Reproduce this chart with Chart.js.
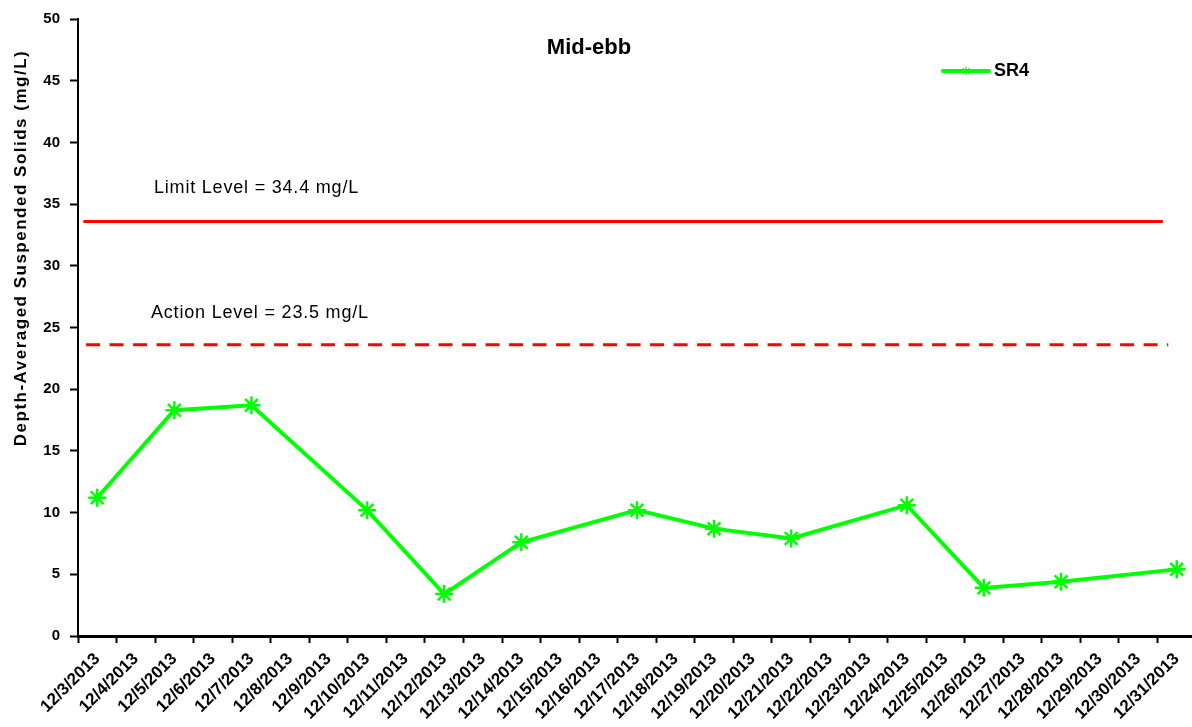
<!DOCTYPE html>
<html>
<head>
<meta charset="utf-8">
<title>Mid-ebb SR4</title>
<script src="https://cdn.jsdelivr.net/npm/chart.js@4.4.1/dist/chart.umd.min.js"></script>
<style>
  html, body { margin: 0; padding: 0; background: #fff; overflow: hidden; }
  #wrap { width: 1196px; height: 727px; }
</style>
</head>
<body>
<div id="wrap"><canvas id="chart"></canvas></div>
<script>
const dates = [
    '12/3/2013', '12/4/2013', '12/5/2013', '12/6/2013', '12/7/2013', '12/8/2013',
    '12/9/2013', '12/10/2013', '12/11/2013', '12/12/2013', '12/13/2013', '12/14/2013',
    '12/15/2013', '12/16/2013', '12/17/2013', '12/18/2013', '12/19/2013', '12/20/2013',
    '12/21/2013', '12/22/2013', '12/23/2013', '12/24/2013', '12/25/2013', '12/26/2013',
    '12/27/2013', '12/28/2013', '12/29/2013', '12/30/2013', '12/31/2013'
];
// SR4 readings, null = no sampling that day
const sr4 = [
    11.2, null, 18.3, null, 18.7, null,
    null, 10.2, null, 3.4, null, 7.6,
    null, null, 10.2, null, 8.7, null,
    7.9, null, null, 10.6, null, 3.9,
    null, 4.4, null, null, 5.4
];
const yMin = 0;
const yMax = 50;
const yStep = 5;

const limitLevel = 33.6;   // where the line sits in the picture
const actionLevel = 23.6;
const limitText = 'Limit Level = 34.4 mg/L';
const actionText = 'Action Level = 23.5 mg/L';
const chartTitle = 'Mid-ebb';
const yTitle = 'Depth-Averaged Suspended Solids (mg/L)';

const fontFamily = "'Liberation Sans', Arial, sans-serif";

// draws level lines, their labels, the title, legend and y title
const annotate = {
    id: 'annotate',
    beforeDatasetsDraw(chart) {
        const ctx = chart.ctx;
        const x = chart.scales.x;
        const y = chart.scales.y;
        const step = x.getPixelForValue(1) - x.getPixelForValue(0);
        const xAt = v => x.getPixelForValue(0) + v * step;

        ctx.save();
        ctx.strokeStyle = '#ff0000';
        ctx.lineWidth = 3;
        // limit level, solid
        ctx.beginPath();
        ctx.moveTo(xAt(-0.36), y.getPixelForValue(limitLevel));
        ctx.lineTo(xAt(27.64), y.getPixelForValue(limitLevel));
        ctx.stroke();
        // action level, dashed
        ctx.setLineDash([14, 9.5]);
        ctx.beginPath();
        ctx.moveTo(xAt(-0.29), y.getPixelForValue(actionLevel));
        ctx.lineTo(xAt(27.78), y.getPixelForValue(actionLevel));
        ctx.stroke();
        ctx.restore();
    },
    afterDraw(chart) {
        const ctx = chart.ctx;
        const y = chart.scales.y;
        ctx.save();
        ctx.fillStyle = '#000';
        ctx.textBaseline = 'middle';

        // level labels
        ctx.font = '18px ' + fontFamily;
        ctx.letterSpacing = '0.8px';
        ctx.textAlign = 'left';
        ctx.fillText(limitText, 154, y.getPixelForValue(limitLevel) - 33);
        ctx.fillText(actionText, 151, y.getPixelForValue(actionLevel) - 32);

        // title
        ctx.letterSpacing = '0px';
        ctx.font = 'bold 22px ' + fontFamily;
        ctx.textAlign = 'center';
        ctx.fillText(chartTitle, 589, 48);

        // legend
        const ds = chart.data.datasets[0];
        ctx.strokeStyle = ds.borderColor;
        ctx.lineWidth = 4;
        ctx.lineCap = 'round';
        ctx.beginPath();
        ctx.moveTo(943, 71);
        ctx.lineTo(989, 71);
        ctx.stroke();
        ctx.lineWidth = 1;
        Chart.helpers.drawPoint(ctx, { pointStyle: 'star', radius: 4, borderWidth: 1 }, 966, 71);
        ctx.font = 'bold 18px ' + fontFamily;
        ctx.textAlign = 'left';
        ctx.fillText(ds.label, 994, 71);

        // y axis title
        ctx.translate(21, 248);
        ctx.rotate(-Math.PI / 2);
        ctx.font = 'bold 17px ' + fontFamily;
        ctx.letterSpacing = '1.5px';
        ctx.textAlign = 'center';
        ctx.fillText(yTitle, 0, 0);
        ctx.restore();
    }
};

new Chart(document.getElementById('chart'), {
    type: 'line',
    data: {
        labels: dates,
        datasets: [{
            label: 'SR4',
            data: sr4,
            borderColor: '#00ff00',
            backgroundColor: '#00ff00',
            borderWidth: 4,
            pointStyle: 'star',
            pointRadius: 9,
            pointBorderWidth: 2.5,
            pointBorderColor: '#00ff00',
            spanGaps: true,
            tension: 0
        }]
    },
    options: {
        responsive: true,
        maintainAspectRatio: false,
        animation: false,
        layout: { autoPadding: false, padding: { top: 17, left: 0, right: 0, bottom: 0 } },
        plugins: {
            legend: { display: false },
            title: { display: false },
            tooltip: { enabled: false }
        },
        scales: {
            x: {
                offset: true,
                grid: { offset: true, drawOnChartArea: false, tickLength: 7, tickColor: '#000', tickWidth: 2 },
                border: { color: '#000', width: 3 },
                ticks: {
                    autoSkip: false,
                    maxRotation: 45,
                    minRotation: 45,
                    color: '#000',
                    padding: 6,
                    font: { family: fontFamily, size: 17, weight: 'bold' }
                },
                afterFit: s => {
                    s.height = 91;
                    s.paddingLeft = 0;
                    s.paddingRight = 0;
                }
            },
            y: {
                min: yMin,
                max: yMax,
                grid: { drawOnChartArea: false, tickLength: 8, tickColor: '#000', tickWidth: 2 },
                border: { color: '#000', width: 2 },
                ticks: {
                    stepSize: yStep,
                    color: '#000',
                    padding: 10,
                    font: { family: fontFamily, size: 15, weight: 'bold' }
                },
                afterFit: s => { s.width = 78; }
            }
        }
    },
    plugins: [annotate]
});
</script>
</body>
</html>
